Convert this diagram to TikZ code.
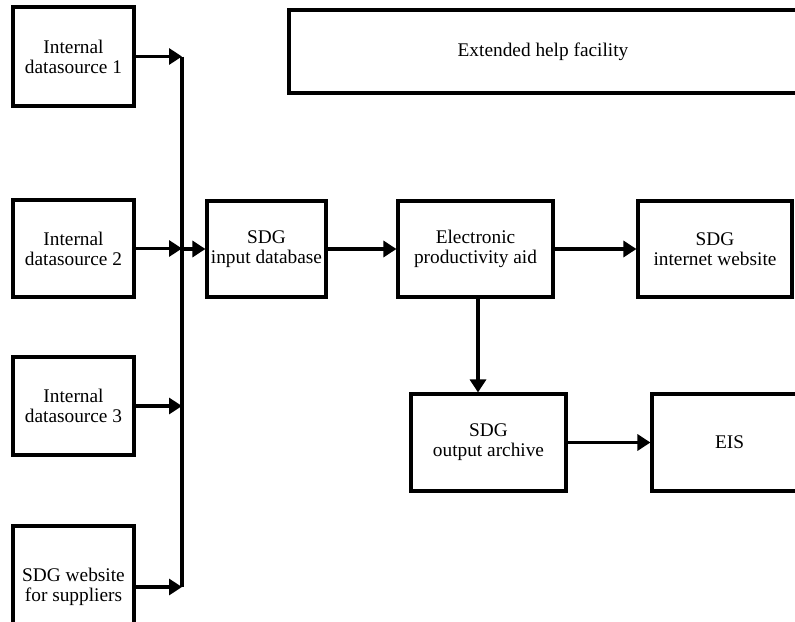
\documentclass[tikz,border=0pt]{standalone}
\usepackage{fontspec}
\setmainfont{Liberation Serif}
\usetikzlibrary{arrows.meta,positioning,calc}
\tikzset{
    flow-box/.style={
        rectangle,
        draw=black,
        line width=1.8pt,
        inner sep=0pt,
        align=center,
        minimum height=1.94cm,
        font=\fontsize{11}{11.5}\selectfont
    },
    flow-arrow/.style={
        draw,
        line width=1.8pt,
        -{Triangle[length=0.26cm,width=0.32cm]}
    },
    flow-line/.style={
        draw,
        line width=1.8pt
    },
}

\begin{document}
\begin{tikzpicture}[x=0.02cm,y=-0.02cm]
        \useasboundingbox (0,0) rectangle (795,622);
        \node [flow-box,minimum width=2.42cm,minimum height=1.98cm] (DS1) at (73.5,56.5) {Internal\\datasource 1};
        \node [flow-box,minimum width=2.42cm] (DS2) at (73.5,248.5) {Internal\\datasource 2};
        \node [flow-box,minimum width=2.42cm,minimum height=1.96cm] (DS3) at (73.5,406) {Internal\\datasource 3};
        \node [flow-box,minimum width=2.42cm,minimum height=2.44cm] (SUP) at (73.5,587) {SDG website\\for suppliers};
        \node [flow-box,minimum width=10.16cm,minimum height=1.66cm] (HELP) at (543,51.5) {Extended help facility};
        \node [flow-box,minimum width=2.38cm,minimum height=1.92cm] (IN) at (266.5,249) {SDG\\input database};
        \node [flow-box,minimum width=3.1cm,minimum height=1.92cm] (EPA) at (475.5,249) {Electronic\\productivity aid};
        \node [flow-box,minimum width=3.08cm,minimum height=1.92cm] (WEB) at (715,249) {SDG\\internet website};
        \node [flow-box,minimum width=3.1cm] (ARCH) at (488.5,442.5) {SDG\\output archive};
        \node [flow-box,minimum width=3.1cm] (EIS) at (729.5,442.5) {EIS};
        \coordinate (BUS) at (182,0);
        \coordinate (DROP) at (478,0);
        \draw [flow-line] (DS1.east -| BUS) -- (SUP.east -| BUS);
        \draw [flow-arrow] (DS1.east) -- (DS1.east -| BUS);
        \draw [flow-arrow] (DS2.east) -- (DS2.east -| BUS);
        \draw [flow-arrow] (DS3.east) -- (DS3.east -| BUS);
        \draw [flow-arrow] (SUP.east) -- (SUP.east -| BUS);
        \draw [flow-arrow] (IN.west -| BUS) -- (IN.west);
        \draw [flow-arrow] (IN.east) -- (EPA.west);
        \draw [flow-arrow] (EPA.east) -- (WEB.west);
        \draw [flow-arrow] (EPA.south -| DROP) -- (ARCH.north -| DROP);
        \draw [flow-arrow] (ARCH.east) -- (EIS.west);
    \end{tikzpicture}
\end{document}
